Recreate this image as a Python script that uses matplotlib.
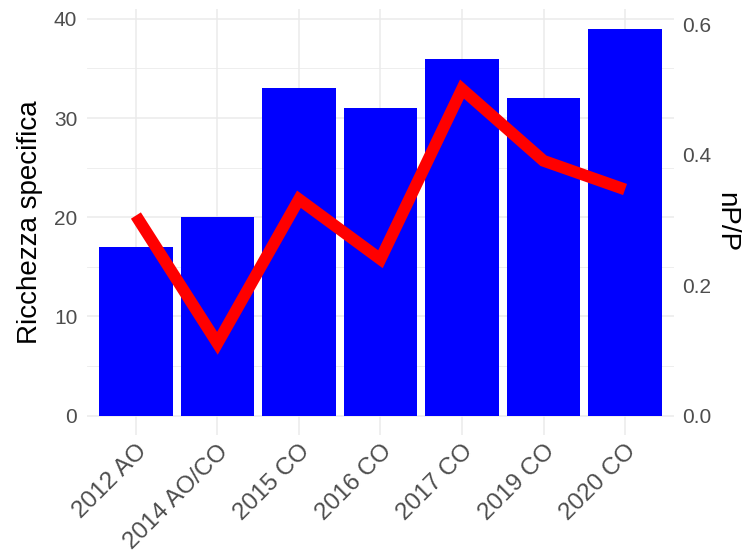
import matplotlib
matplotlib.use("Agg")
import matplotlib.pyplot as plt
import matplotlib.transforms as mtransforms
import numpy as np

categories = ["2012 AO", "2014 AO/CO", "2015 CO", "2016 CO", "2017 CO", "2019 CO", "2020 CO"]
richness = [17, 20, 33, 31, 36, 32, 39]
npp = [0.307, 0.111, 0.332, 0.240, 0.501, 0.391, 0.347]
scale = 65.7

plt.rcParams['font.family'] = ['Liberation Sans', 'DejaVu Sans']

fig = plt.figure(figsize=(7.48, 5.53), dpi=100)
ax = fig.add_axes([0.1163, 0.2134, 0.901 - 0.1163, 0.983 - 0.2134])
x = np.arange(len(categories))

ax.bar(x, richness, width=0.9, color="#0000FF", zorder=2)
ymin, ymax = -1.95, 40.95
ax.set_ylim(ymin, ymax)
ax.set_xlim(-0.6, len(categories) - 0.4)
ax.set_yticks([0, 10, 20, 30, 40])
ax.set_yticks([5, 15, 25, 35], minor=True)
ax.set_xticks(x)
ax.set_xticklabels(categories, rotation=45, ha="right", va="top", rotation_mode="anchor")
offset = mtransforms.ScaledTranslation(5 / 100, -2 / 100, fig.dpi_scale_trans)
for lbl in ax.get_xticklabels():
    lbl.set_transform(lbl.get_transform() + offset)
ax.grid(True, which="major", color="#EBEBEB", linewidth=1.1, zorder=0)
ax.grid(True, which="minor", axis="y", color="#EBEBEB", linewidth=0.6, zorder=0)
ax.set_axisbelow(True)
for s in ax.spines.values():
    s.set_visible(False)
ax.tick_params(axis="both", which="both", length=0, labelcolor="#4D4D4D")
ax.tick_params(axis="y", labelsize=15, pad=7)
ax.tick_params(axis="x", labelsize=17.5, pad=4)
ax.set_ylabel("Ricchezza specifica", fontsize=20, color="black", labelpad=8)

ax2 = ax.twinx()
ax2.set_ylim(ymin / scale, ymax / scale)
ax2.plot(x, npp, color="#FF0000", linewidth=8.5, solid_capstyle="butt", solid_joinstyle="miter", zorder=3)
ax2.set_yticks([0.0, 0.2, 0.4, 0.6])
ax2.set_yticklabels(["0.0", "0.2", "0.4", "0.6"])
for s in ax2.spines.values():
    s.set_visible(False)
ax2.tick_params(axis="y", length=0, labelsize=15, labelcolor="#4D4D4D", pad=6)
ax2.set_ylabel("nP/P", fontsize=20, color="black", rotation=-90, labelpad=20)

fig.savefig("out.png", dpi=100)
